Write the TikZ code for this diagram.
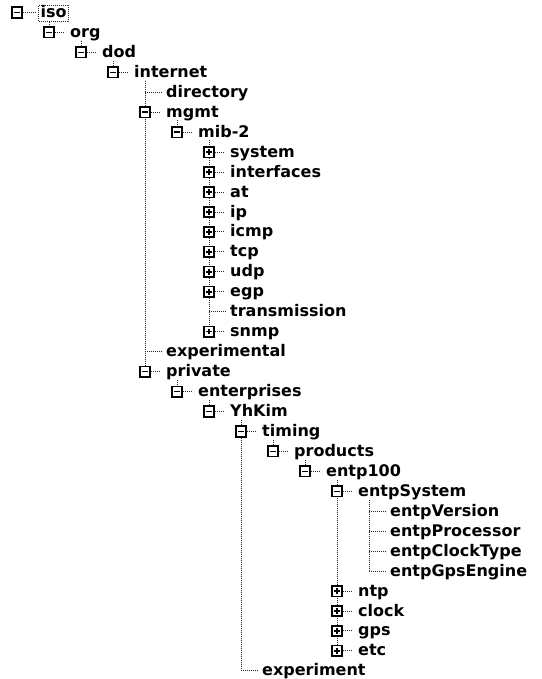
\documentclass[tikz,border=0pt]{standalone}
\usepackage{fontspec}
\setmainfont{DejaVu Sans}
\usetikzlibrary{backgrounds}

\tikzset{
  conn/.style={draw=black!85, line width=1pt, dash pattern=on 0.9pt off 1.1pt},
  lbl/.style={anchor=base west, inner sep=0pt, text height=12pt, text depth=3pt,
    font=\bfseries\fontsize{16}{18}\selectfont},
  focusbox/.style={lbl, draw=black!85, line width=1pt, dash pattern=on 0.9pt off 1.1pt,
    inner sep=2.2pt, text height=10pt, text depth=2pt},
  boxbase/.style={draw=black, line width=1.6pt, fill=white, minimum size=10.5pt, inner sep=0pt},
  minusbox/.style={boxbase, path picture={
    \draw[line width=1.5pt] ([xshift=-2.7pt]path picture bounding box.center)
      -- ([xshift=2.7pt]path picture bounding box.center);}},
  plusbox/.style={boxbase, path picture={
    \draw[line width=1.5pt] ([xshift=-2.7pt]path picture bounding box.center)
      -- ([xshift=2.7pt]path picture bounding box.center);
    \draw[line width=1.5pt] ([yshift=-2.7pt]path picture bounding box.center)
      -- ([yshift=2.7pt]path picture bounding box.center);}},
}

% expanded item: name, depth, row, text
\newcommand\treeopen[4]{%
  \node[minusbox] (b-#1) at ({17+32*#2},{12.5+19.95*#3}) {};
  \node[lbl] (#1) at ({38+32*#2},{17.5+19.95*#3}) {#4};
  \draw[conn, shorten >=5pt] (b-#1.east) -- (b-#1.east -| #1.west);
}
% collapsed item
\newcommand\treeshut[4]{%
  \node[plusbox] (b-#1) at ({17+32*#2},{12.5+19.95*#3}) {};
  \node[lbl] (#1) at ({38+32*#2},{17.5+19.95*#3}) {#4};
  \draw[conn, shorten >=5pt] (b-#1.east) -- (b-#1.east -| #1.west);
}
% leaf item
\newcommand\treeleaf[4]{%
  \coordinate (k-#1) at ({17+32*#2},{12.5+19.95*#3});
  \node[lbl] (#1) at ({38+32*#2},{17.5+19.95*#3}) {#4};
  \draw[conn, shorten >=3.5pt] (k-#1) -- (k-#1 -| #1.west);
}

\begin{document}
\begin{tikzpicture}[x=1pt, y=-1pt]
  \useasboundingbox (0,0) rectangle (541,679);

  % root with focus rectangle
  \node[minusbox] (b-iso) at (17,12.5) {};
  \node[focusbox] (iso) at (38,17.5) {iso};
  \draw[conn, shorten >=2pt] (b-iso.east) -- (b-iso.east -| iso.west);

  \treeopen{org}{1}{1}{org}
  \treeopen{dod}{2}{2}{dod}
  \treeopen{internet}{3}{3}{internet}
  \treeleaf{directory}{4}{4}{directory}
  \treeopen{mgmt}{4}{5}{mgmt}
  \treeopen{mibtwo}{5}{6}{mib-2}
  \treeshut{system}{6}{7}{system}
  \treeshut{interfaces}{6}{8}{interfaces}
  \treeshut{at}{6}{9}{at}
  \treeshut{ip}{6}{10}{ip}
  \treeshut{icmp}{6}{11}{icmp}
  \treeshut{tcp}{6}{12}{tcp}
  \treeshut{udp}{6}{13}{udp}
  \treeshut{egp}{6}{14}{egp}
  \treeleaf{transmission}{6}{15}{transmission}
  \treeshut{snmp}{6}{16}{snmp}
  \treeleaf{experimental}{4}{17}{experimental}
  \treeopen{private}{4}{18}{private}
  \treeopen{enterprises}{5}{19}{enterprises}
  \treeopen{yhkim}{6}{20}{YhKim}
  \treeopen{timing}{7}{21}{timing}
  \treeopen{products}{8}{22}{products}
  \treeopen{entp}{9}{23}{entp100}
  \treeopen{entpsystem}{10}{24}{entpSystem}
  \treeleaf{entpversion}{11}{25}{entpVersion}
  \treeleaf{entpprocessor}{11}{26}{entpProcessor}
  \treeleaf{entpclocktype}{11}{27}{entpClockType}
  \treeleaf{entpgpsengine}{11}{28}{entpGpsEngine}
  \treeshut{ntp}{10}{29}{ntp}
  \treeshut{clock}{10}{30}{clock}
  \treeshut{gps}{10}{31}{gps}
  \treeshut{etc}{10}{32}{etc}
  \treeleaf{experiment}{7}{33}{experiment}

  % white page and sibling lines, behind the boxes
  \begin{scope}[on background layer]
    \fill[white] (0,0) rectangle (541,679);
    \draw[conn] (iso.south -| b-org) -- (b-org);
    \draw[conn] (org.south -| b-dod) -- (b-dod);
    \draw[conn] (dod.south -| b-internet) -- (b-internet);
    \draw[conn] (internet.south -| b-mgmt) -- (b-private);
    \draw[conn] (mgmt.south -| b-mibtwo) -- (b-mibtwo);
    \draw[conn] (mibtwo.south -| b-system) -- (b-snmp);
    \draw[conn] (private.south -| b-enterprises) -- (b-enterprises);
    \draw[conn] (enterprises.south -| b-yhkim) -- (b-yhkim);
    \draw[conn] (yhkim.south -| b-timing) -- (k-experiment);
    \draw[conn] (timing.south -| b-products) -- (b-products);
    \draw[conn] (products.south -| b-entp) -- (b-entp);
    \draw[conn] (entp.south -| b-entpsystem) -- (b-etc);
    \draw[conn] (entpsystem.south -| k-entpversion) -- (k-entpgpsengine);
  \end{scope}
\end{tikzpicture}
\end{document}
